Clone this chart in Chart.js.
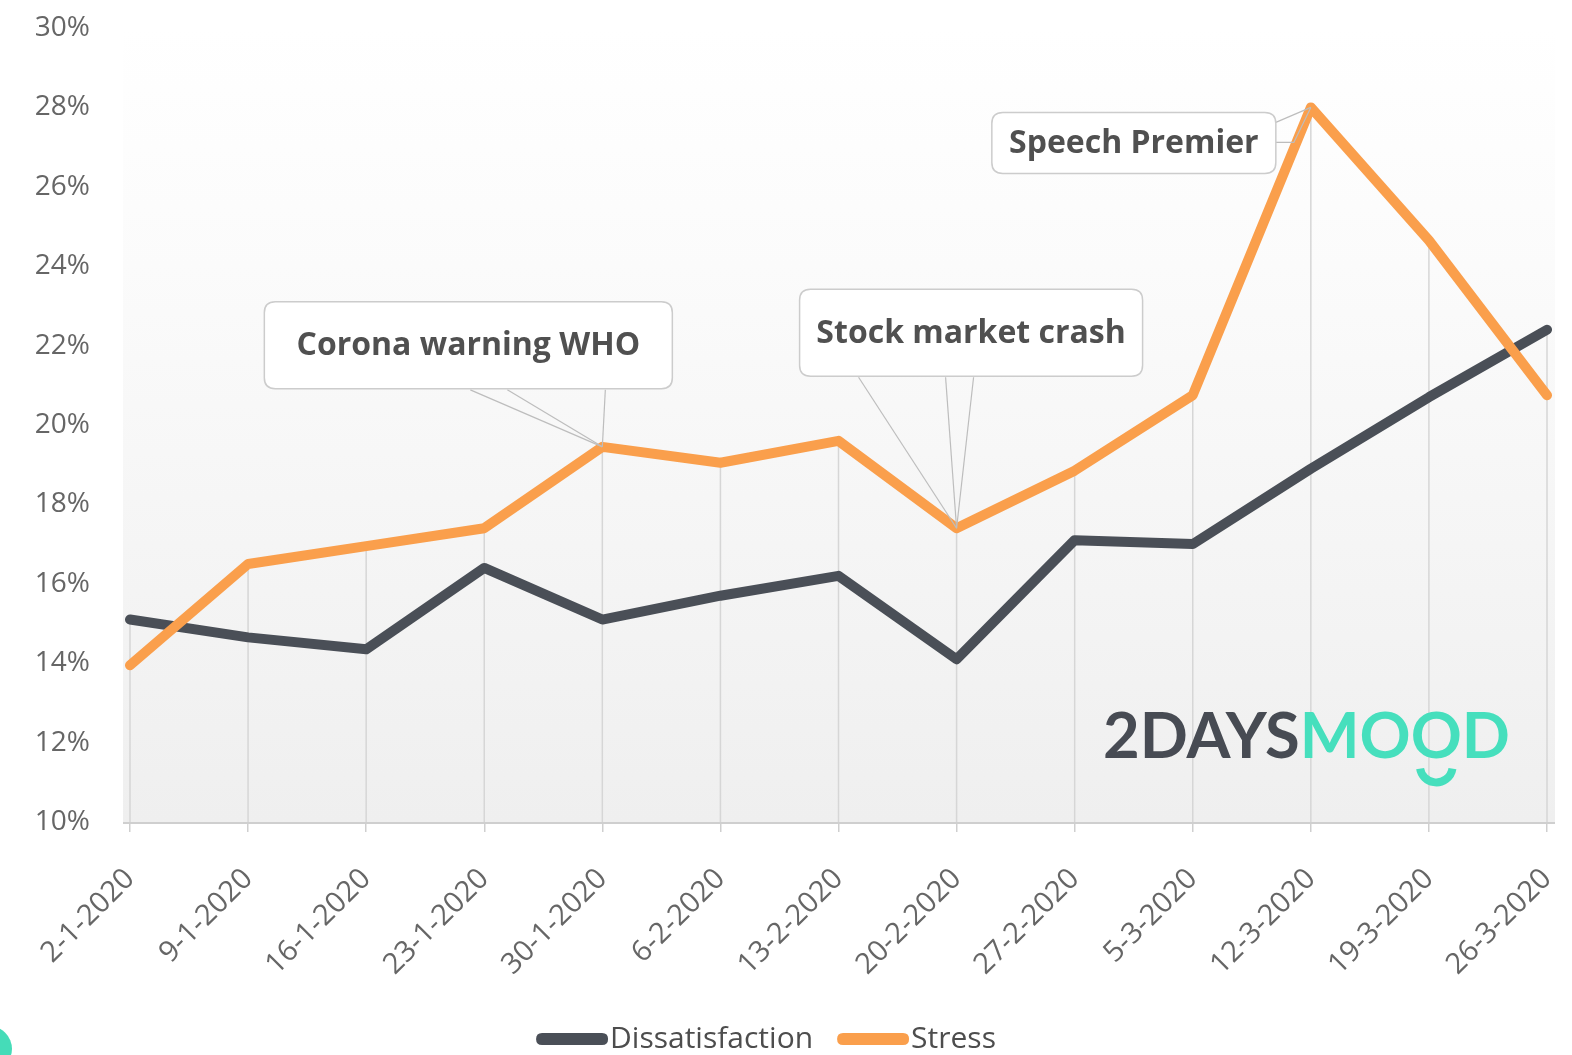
<!DOCTYPE html>
<html>
<head>
<meta charset="utf-8">
<title>Dissatisfaction vs Stress</title>
<script src="https://cdn.jsdelivr.net/npm/chart.js@4.4.0/dist/chart.umd.min.js"></script>
<style>
    html, body { margin: 0; padding: 0; background: #fff; overflow: hidden; }
    #wrap { position: relative; width: 1572px; height: 1055px; }
    #corner { position: absolute; left: -34px; top: 1026px; width: 46px; height: 46px; border-radius: 50%; background: #45dcb8; }
</style>
</head>
<body>
<div id="wrap">
    <canvas id="moodChart"></canvas>
    <div id="corner"></div>
</div>
<script>
// weekly data
const weeks = ['2-1-2020', '9-1-2020', '16-1-2020', '23-1-2020', '30-1-2020', '6-2-2020', '13-2-2020',
    '20-2-2020', '27-2-2020', '5-3-2020', '12-3-2020', '19-3-2020', '26-3-2020'];
const dissatisfaction = [15.1, 14.65, 14.35, 16.4, 15.1, 15.7, 16.2, 14.1, 17.1, 17.0, 18.9, 20.7, 22.4];
const stress = [13.95, 16.5, 16.95, 17.4, 19.45, 19.05, 19.6, 17.4, 18.85, 20.75, 28.0, 24.65, 20.75];

const yMin = 10;
const yMax = 30;
const yStep = 2;

// events pinned to the stress line
const eventWeeks = ['30-1-2020', '20-2-2020', '12-3-2020'];
const eventTexts = ['Corona warning WHO', 'Stock market crash', 'Speech Premier'];

// callout box/tail geometry relative to the point (pixels)
const calloutLayout = [
    { box: [-338, -145, 408, 87], tails: [[[-132, -57]], [[-95, -57]], [[3, -57]]] },
    { box: [-157, -239, 343, 87], tails: [[[-98, -151]], [[-11, -151]], [[17, -151]]] },
    { box: [-319, 5, 284, 61], tails: [[[-35, 15]], [[-35, 35], [-17, 35]]] }
];

const DARK = '#4a4f57';
const ORANGE = '#fa9f4c';
const TEAL = '#46dfbd';

function roundRect(ctx, x, y, w, h, r) {
    ctx.beginPath();
    ctx.moveTo(x + r, y);
    ctx.lineTo(x + w - r, y);
    ctx.quadraticCurveTo(x + w, y, x + w, y + r);
    ctx.lineTo(x + w, y + h - r);
    ctx.quadraticCurveTo(x + w, y + h, x + w - r, y + h);
    ctx.lineTo(x + r, y + h);
    ctx.quadraticCurveTo(x, y + h, x, y + h - r);
    ctx.lineTo(x, y + r);
    ctx.quadraticCurveTo(x, y, x + r, y);
    ctx.closePath();
}

// plot background, drop lines and the logo
const backdropPlugin = {
    id: 'backdrop',
    beforeDatasetsDraw(chart) {
        const { ctx, chartArea, scales } = chart;
        const { left, right, top, bottom } = chartArea;
        ctx.save();
        const grad = ctx.createLinearGradient(0, top, 0, bottom);
        grad.addColorStop(0, '#ffffff');
        grad.addColorStop(0.3, '#fbfbfb');
        grad.addColorStop(1, '#efefef');
        ctx.fillStyle = grad;
        ctx.fillRect(left - 7, top, right - left + 15, bottom - top);

        // drop lines from the highest point of each week
        ctx.strokeStyle = '#d6d6d6';
        ctx.lineWidth = 1.5;
        weeks.forEach((w, i) => {
            const x = scales.x.getPixelForValue(i);
            const yTop = scales.y.getPixelForValue(Math.max(dissatisfaction[i], stress[i]));
            ctx.beginPath();
            ctx.moveTo(x, yTop);
            ctx.lineTo(x, bottom);
            ctx.stroke();
        });

        // axis line
        ctx.strokeStyle = '#cfcfcf';
        ctx.lineWidth = 2;
        ctx.beginPath();
        ctx.moveTo(left - 7, bottom + 1);
        ctx.lineTo(right + 8, bottom + 1);
        ctx.stroke();

        // 2DAYSMOOD logo
        const partA = '2DAYS';
        const partB = 'MOOD';
        ctx.font = 'bold 100px Lato';
        const full = ctx.measureText(partA + partB).width;
        const size = 100 * 407 / full;
        ctx.font = `bold ${size}px Lato`;
        const wA = ctx.measureText(partA).width;
        const logoRight = right - 37;
        const logoLeft = logoRight - ctx.measureText(partA + partB).width;
        const baseY = bottom - 64;
        ctx.textBaseline = 'alphabetic';
        ctx.textAlign = 'left';
        ctx.fillStyle = '#474b53';
        ctx.fillText(partA, logoLeft, baseY);
        ctx.fillStyle = TEAL;
        ctx.fillText(partB, logoLeft + wA, baseY);
        const wMO = ctx.measureText('MO').width;
        const wO = ctx.measureText('O').width;
        const cx = logoLeft + wA + wMO + wO / 2;
        ctx.strokeStyle = TEAL;
        ctx.lineWidth = 8;
        ctx.beginPath();
        ctx.arc(cx, baseY + 8, wO * 0.32, 0.05 * Math.PI, 0.95 * Math.PI);
        ctx.stroke();
        ctx.restore();
    }
};

// callouts and legend on top
const overlayPlugin = {
    id: 'overlay',
    afterDraw(chart) {
        const { ctx, scales } = chart;
        ctx.save();
        eventWeeks.forEach((wk, k) => {
            const i = weeks.indexOf(wk);
            const px = scales.x.getPixelForValue(i);
            const py = scales.y.getPixelForValue(stress[i]);
            const lay = calloutLayout[k];
            ctx.strokeStyle = '#bdbdbd';
            ctx.lineWidth = 1.2;
            lay.tails.forEach(path => {
                ctx.beginPath();
                ctx.moveTo(px + path[0][0], py + path[0][1]);
                path.slice(1).forEach(p => ctx.lineTo(px + p[0], py + p[1]));
                ctx.lineTo(px, py);
                ctx.stroke();
            });
            const [bx, by, bw, bh] = lay.box;
            roundRect(ctx, px + bx, py + by, bw, bh, 11);
            ctx.fillStyle = '#ffffff';
            ctx.fill();
            ctx.strokeStyle = '#cccccc';
            ctx.lineWidth = 1.5;
            ctx.stroke();
            ctx.fillStyle = '#505050';
            ctx.font = 'bold 32px "Open Sans"';
            ctx.textAlign = 'center';
            ctx.textBaseline = 'middle';
            ctx.fillText(eventTexts[k], px + bx + bw / 2, py + by + bh / 2 + 1);
        });

        // legend
        ctx.font = '30px "Open Sans"';
        ctx.textAlign = 'left';
        ctx.textBaseline = 'middle';
        const swW = 72, swH = 12, gap = 2, between = 24;
        const items = chart.data.datasets.map(ds => ({ text: ds.label, color: ds.borderColor, w: ctx.measureText(ds.label).width }));
        const total = items.reduce((s, it) => s + swW + gap + it.w, 0) + between * (items.length - 1);
        let x = chart.width / 2 - 20 - total / 2;
        const y = 1039;
        items.forEach(it => {
            roundRect(ctx, x, y - swH / 2, swW, swH, 6);
            ctx.fillStyle = it.color;
            ctx.fill();
            ctx.fillStyle = '#4d4d4d';
            ctx.fillText(it.text, x + swW + gap, y);
            x += swW + gap + it.w + between;
        });
        ctx.restore();
    }
};

const ctx = document.getElementById('moodChart').getContext('2d');
new Chart(ctx, {
    type: 'line',
    data: {
        labels: weeks,
        datasets: [
            {
                label: 'Dissatisfaction',
                data: dissatisfaction,
                borderColor: DARK,
                backgroundColor: DARK,
                borderWidth: 10,
                pointRadius: 0,
                tension: 0,
                borderJoinStyle: 'round',
                borderCapStyle: 'round',
                order: 2
            },
            {
                label: 'Stress',
                data: stress,
                borderColor: ORANGE,
                backgroundColor: ORANGE,
                borderWidth: 10,
                pointRadius: 0,
                tension: 0,
                borderJoinStyle: 'round',
                borderCapStyle: 'round',
                order: 1
            }
        ]
    },
    options: {
        responsive: true,
        maintainAspectRatio: false,
        animation: false,
        layout: { padding: { top: 28, right: 25, bottom: 0, left: 0 } },
        plugins: {
            legend: { display: false },
            tooltip: { enabled: false }
        },
        scales: {
            x: {
                grid: { drawOnChartArea: false, drawTicks: true, tickLength: 10, color: '#cfcfcf', lineWidth: 1.5 },
                border: { display: false },
                ticks: {
                    color: '#666',
                    font: { family: 'Open Sans', size: 29 },
                    minRotation: 45,
                    maxRotation: 45,
                    padding: 30,
                    autoSkip: false
                },
                afterFit: (scale) => {
                    scale.height = 233;
                    scale.paddingLeft = 0;
                    scale.paddingRight = 0;
                }
            },
            y: {
                min: yMin,
                max: yMax,
                grid: { display: false, drawTicks: false },
                border: { display: false },
                ticks: {
                    stepSize: yStep,
                    color: '#666',
                    font: { family: 'Open Sans', size: 28 },
                    padding: 40,
                    callback: (v) => v + '%'
                },
                afterFit: (scale) => {
                    scale.width = 130;
                    scale.paddingTop = 0;
                    scale.paddingBottom = 0;
                }
            }
        }
    },
    plugins: [backdropPlugin, overlayPlugin]
});
</script>
</body>
</html>
